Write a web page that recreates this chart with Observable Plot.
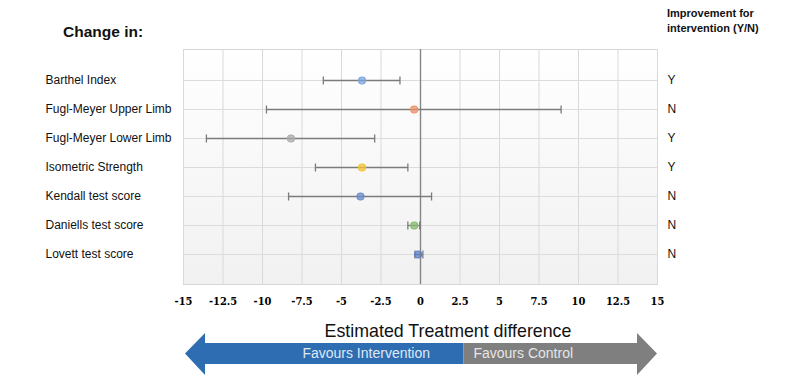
<!DOCTYPE html>
<html>
<head>
<meta charset="utf-8">
<script src="https://cdn.jsdelivr.net/npm/d3@7"></script>
<script src="https://cdn.jsdelivr.net/npm/@observablehq/plot@0.6"></script>
<style>
  html, body { margin: 0; padding: 0; background: #fff; }
  #chart { width: 787px; height: 386px; }
</style>
</head>
<body>
<div id="chart"></div>
<script>
// ---- data ----
const categories = ["Barthel Index", "Fugl-Meyer Upper Limb", "Fugl-Meyer Lower Limb", "Isometric Strength", "Kendall test score", "Daniells test score", "Lovett test score"];
const estimates = [-3.7, -0.4, -8.2, -3.7, -3.8, -0.4, -0.15];
const lowerCI   = [-6.15, -9.75, -13.55, -6.65, -8.35, -0.8, -0.35];
const upperCI   = [-1.3, 8.9, -2.9, -0.8, 0.7, -0.05, 0.15];
const improvement = ["Y", "N", "Y", "Y", "N", "N", "N"];
const xTicks = [-15, -12.5, -10, -7.5, -5, -2.5, 0, 2.5, 5, 7.5, 10, 12.5, 15];
const favourSplit = 2.75;
const palette = ["#7ea4e0", "#ee9268", "#ababab", "#f6c431", "#6b8bcb", "#86bb6c", "#5d7fc2"];

const rows = categories.map((name, i) => ({name, est: estimates[i], lo: lowerCI[i], hi: upperCI[i], yn: improvement[i]}));

// vertical cap symbol for the error bar ends
const vbar = {draw(ctx, size) { const r = Math.sqrt(size / Math.PI); ctx.moveTo(0, -r); ctx.lineTo(0, r); }};

const W = 787, H = 386;
const plot = Plot.plot({
  width: W, height: H,
  marginLeft: 183, marginRight: 130, marginTop: 49, marginBottom: 102,
  style: {fontFamily: "Liberation Sans, Arial, sans-serif", background: "transparent"},
  x: {domain: [-15, 15], label: null},
  y: {type: "point", domain: categories, padding: 1, label: null, axis: null},
  color: {type: "ordinal", domain: categories, range: palette},
  marks: [
    Plot.frame({fill: "url(#bgGrad)", stroke: "#d6d6d6"}),
    Plot.gridX(xTicks, {stroke: "#d9d9d9", strokeOpacity: 1}),
    Plot.gridY(categories, {stroke: "#dcdcdc", strokeOpacity: 1}),
    Plot.ruleX([0], {stroke: "#858585", strokeWidth: 1.4}),
    Plot.axisX(xTicks, {tickSize: 0, tickPadding: 13, fontSize: 11, fontWeight: "bold",
      fontFamily: "DejaVu Serif Condensed, DejaVu Serif, serif",
      tickFormat: d => String(d), label: null}),
    Plot.link(rows, {x1: "lo", x2: "hi", y1: "name", y2: "name", stroke: "#7b7b7b", strokeWidth: 1.3}),
    Plot.dot(rows, {x: "lo", y: "name", symbol: vbar, r: 4, fill: "none", stroke: "#7b7b7b", strokeWidth: 1.3}),
    Plot.dot(rows, {x: "hi", y: "name", symbol: vbar, r: 4, fill: "none", stroke: "#7b7b7b", strokeWidth: 1.3}),
    Plot.dot(rows, {x: "est", y: "name", r: 3.5, fill: "name", fillOpacity: 0.75, stroke: "name", strokeWidth: 1.1}),
    Plot.text(rows, {y: "name", text: "name", frameAnchor: "left", dx: -138, textAnchor: "start", fontSize: 12, fill: "#111"}),
    Plot.text(rows, {y: "name", text: "yn", frameAnchor: "right", dx: 10, textAnchor: "start", fontSize: 12, fill: "#111"})
  ]
});

const svg = d3.select(plot);
const defs = svg.insert("defs", ":first-child");
const grad = defs.append("linearGradient").attr("id", "bgGrad").attr("x1", 0).attr("y1", 0).attr("x2", 0).attr("y2", 1);
grad.append("stop").attr("offset", "0%").attr("stop-color", "#ffffff");
grad.append("stop").attr("offset", "100%").attr("stop-color", "#f1f1f1");

// Titles
svg.append("text").attr("x", 63).attr("y", 37).attr("text-anchor", "start").attr("font-size", 15.5).attr("font-weight", "bold")
  .attr("font-family", "Liberation Sans, Arial, sans-serif").attr("fill", "#111").text("Change in:");
const hdr = svg.append("text").attr("text-anchor", "start").attr("font-size", 11).attr("font-weight", "bold")
  .attr("font-family", "Liberation Sans, Arial, sans-serif").attr("fill", "#111");
hdr.append("tspan").attr("x", 667).attr("y", 17).text("Improvement for");
hdr.append("tspan").attr("x", 667).attr("y", 32).text("intervention (Y/N)");

// Arrow below axis, positioned through the x scale
const xs = plot.scale("x");
const xL = xs.apply(-15) + 2, xR = xs.apply(15), xM = xs.apply(favourSplit);
const head = 20, sT = 343, sB = 364, hT = 333, hB = 375, mid = (sT + sB) / 2;
svg.append("polygon").attr("fill", "#2f6db3")
  .attr("points", [[xL, mid], [xL + head, hT], [xL + head, sT], [xM, sT], [xM, sB], [xL + head, sB], [xL + head, hB]].join(" "));
svg.append("polygon").attr("fill", "#7f7f7f")
  .attr("points", [[xM, sT], [xR - head, sT], [xR - head, hT], [xR, mid], [xR - head, hB], [xR - head, sB], [xM, sB]].join(" "));
svg.append("text").attr("x", (xs.apply(-15) + xs.apply(15)) / 2 + 28).attr("y", 337).attr("text-anchor", "middle")
  .attr("font-size", 17.8).attr("font-family", "Liberation Sans, Arial, sans-serif").attr("fill", "#111")
  .text("Estimated Treatment difference");
svg.append("text").attr("x", (xL + head + xM) / 2 + 32).attr("y", 358).attr("text-anchor", "middle")
  .attr("font-size", 14).attr("font-family", "Liberation Sans, Arial, sans-serif").attr("fill", "#dfe8f5")
  .text("Favours Intervention");
svg.append("text").attr("x", xM + 10).attr("y", 358).attr("text-anchor", "start")
  .attr("font-size", 14).attr("font-family", "Liberation Sans, Arial, sans-serif").attr("fill", "#e6e6e6")
  .text("Favours Control");

document.getElementById("chart").appendChild(plot);
</script>
</body>
</html>
